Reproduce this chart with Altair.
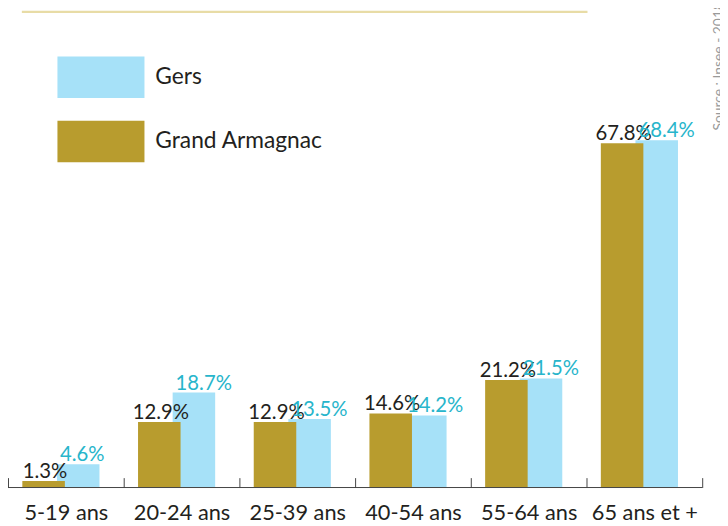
import altair as alt
import pandas as pd

categories = ["5-19 ans", "20-24 ans", "25-39 ans", "40-54 ans", "55-64 ans", "65 ans et +"]
grand_armagnac = [1.3, 12.9, 12.9, 14.6, 21.2, 67.8]
gers = [4.6, 18.7, 13.5, 14.2, 21.5, 68.4]
series = ["Gers", "Grand Armagnac"]
bar_colors = ["#a6e1f8", "#b89c2e"]
source_text = "Source : Insee - 2018"

rows = []
for c, g, s in zip(categories, grand_armagnac, gers):
    rows.append({"age": c, "serie": "Grand Armagnac", "value": g})
    rows.append({"age": c, "serie": "Gers", "value": s})
df = pd.DataFrame(rows)

W, H = 702, 482
YMAX = 93.9
FONT = "Lato"
DARK = "#231f20"
CYAN = "#27b5cb"

x = alt.X(
    "age:N", sort=categories,
    scale=alt.Scale(paddingInner=0, paddingOuter=0),
    axis=alt.Axis(title=None, domain=False, tickBand="extent", tickSize=10, offset=-10,
                  tickColor="#444444", tickWidth=1, labelAngle=0, labelFont=FONT,
                  labelFontSize=22, labelColor=DARK, labelPadding=15, grid=False),
)
y = alt.Y("value:Q", scale=alt.Scale(domain=[0, YMAX], nice=False, zero=True), axis=None)
color = alt.Color(
    "serie:N",
    scale=alt.Scale(domain=series, range=bar_colors),
    legend=alt.Legend(title=None, orient="none", legendX=50, legendY=23,
                      symbolType="M-1,-0.477H1V0.477H-1Z", symbolSize=7744,
                      symbolStrokeWidth=0, symbolOpacity=1,
                      labelFont=FONT, labelFontSize=23, labelColor=DARK, labelLimit=400,
                      labelOffset=11, rowPadding=-7.5, padding=0),
)

base = alt.Chart(df)
gers_df = base.transform_filter(alt.datum.serie == "Gers")
ga_df = base.transform_filter(alt.datum.serie == "Grand Armagnac")

gers_bars = gers_df.mark_bar(width=43, xOffset=12.5).encode(x=x, y=y, color=color)
ga_bars = ga_df.mark_bar(width=43, xOffset=-22.5).encode(x=x, y=y, color=color)

ga_text = ga_df.transform_calculate(label="format(datum.value, '.1f') + '%'").mark_text(
    dx=-21, dy=-3, baseline="alphabetic", align="center", font=FONT, fontSize=20.5, color=DARK
).encode(x=x, y=y, text="label:N")
gers_text = gers_df.transform_calculate(label="format(datum.value, '.1f') + '%'").mark_text(
    dx=-6, dy=-3, baseline="alphabetic", align="left", font=FONT, fontSize=20.5, color=CYAN
).encode(x=x, y=y, text="label:N")

one = pd.DataFrame({"v": [0]})
baseline = alt.Chart(one).mark_rule(color="#444444", strokeWidth=1).encode(
    y=alt.Y("v:Q", scale=alt.Scale(domain=[0, YMAX], nice=False), axis=None)
)
top_line = alt.Chart(one).mark_rule(color="#e8dca6", strokeWidth=2.5).encode(
    x=alt.value(14), x2=alt.value(586), y=alt.value(1)
)
source = alt.Chart(one).mark_text(
    text=source_text, angle=270, align="left", baseline="middle",
    fontSize=14, color="#9a9a9a", font=FONT
).encode(x=alt.value(719), y=alt.value(121))

chart = alt.layer(
    top_line, gers_bars, ga_bars, baseline, ga_text, gers_text, source
).properties(
    width=W, height=H,
    padding={"left": 0, "top": 0, "right": 18, "bottom": 36},
    autosize=alt.AutoSizeParams(type="none"),
).configure_view(stroke=None)

chart.save("out.html", embed_options={"renderer": "svg", "actions": False})
